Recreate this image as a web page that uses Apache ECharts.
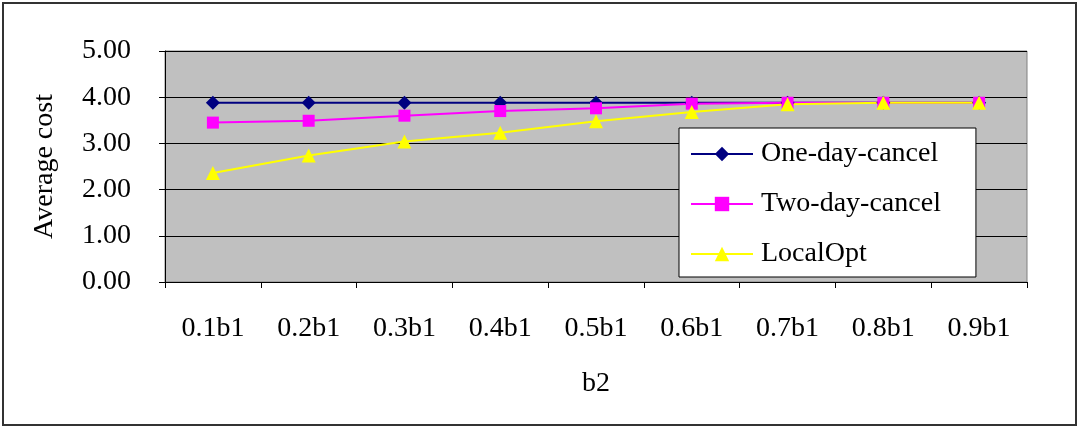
<!DOCTYPE html>
<html>
<head>
<meta charset="utf-8">
<script src="https://cdn.jsdelivr.net/npm/echarts@6/dist/echarts.min.js"></script>
<style>
  html, body { margin: 0; padding: 0; background: #fff; }
  #chart { width: 1081px; height: 429px; }
</style>
</head>
<body>
<div id="chart"></div>
<script>
// values
const categories = ['0.1b1', '0.2b1', '0.3b1', '0.4b1', '0.5b1', '0.6b1', '0.7b1', '0.8b1', '0.9b1'];
const oneDayCancel = [3.88, 3.88, 3.88, 3.88, 3.88, 3.88, 3.88, 3.88, 3.88];
const twoDayCancel = [3.45, 3.49, 3.60, 3.70, 3.76, 3.86, 3.88, 3.88, 3.88];
const localOpt = [2.36, 2.74, 3.04, 3.23, 3.48, 3.68, 3.85, 3.88, 3.88];

const serif = "'Liberation Serif', 'DejaVu Serif', serif";
const fontSize = 28;

const lineSeries = (name, data, color, symbol, size) => ({
  name,
  type: 'line',
  data,
  symbol,
  symbolSize: size,
  lineStyle: { color, width: 2 },
  itemStyle: { color },
  animation: false,
});

const chart = echarts.init(document.getElementById('chart'), null, { renderer: 'canvas' });

chart.setOption({
  backgroundColor: '#fff',
  animation: false,
  graphic: [{
    type: 'rect',
    shape: { x: 3, y: 3, width: 1073, height: 422 },
    style: { fill: 'none', stroke: '#333', lineWidth: 2 },
    z: 100,
  }],
  grid: {
    left: 165,
    right: 54,
    top: 51,
    bottom: 147,
    show: true,
    backgroundColor: '#C0C0C0',
    borderColor: '#808080',
    borderWidth: 1,
  },
  legend: {
    orient: 'vertical',
    left: 679,
    top: 128,
    padding: [12, 35, 9, 11],
    itemWidth: 62,
    itemHeight: 18,
    itemGap: 22,
    backgroundColor: '#fff',
    borderColor: '#000',
    borderWidth: 1,
    textStyle: { fontFamily: serif, fontSize: fontSize, color: '#000', padding: [0, 0, 0, 3] },
    data: ['One-day-cancel', 'Two-day-cancel', 'LocalOpt'],
  },
  xAxis: {
    type: 'category',
    data: categories,
    boundaryGap: true,
    name: 'b2',
    nameLocation: 'middle',
    nameGap: 88,
    nameTextStyle: { fontFamily: serif, fontSize: fontSize, color: '#000' },
    axisLine: { lineStyle: { color: '#000', width: 1 } },
    axisTick: { show: true, length: 6, lineStyle: { color: '#000' } },
    axisLabel: { fontFamily: serif, fontSize: fontSize, color: '#000', margin: 33 },
  },
  yAxis: {
    type: 'value',
    min: 0,
    max: 5,
    interval: 1,
    name: 'Average cost',
    nameLocation: 'middle',
    nameGap: 106,
    nameTextStyle: { fontFamily: serif, fontSize: fontSize, color: '#000' },
    axisLine: { show: true, lineStyle: { color: '#000', width: 1 } },
    axisTick: { show: true, length: 6, lineStyle: { color: '#000' } },
    axisLabel: {
      fontFamily: serif,
      fontSize: fontSize,
      color: '#000',
      margin: 34,
      formatter: v => v.toFixed(2),
    },
    splitLine: { show: true, lineStyle: { color: '#000', width: 1 } },
  },
  series: [
    lineSeries('One-day-cancel', oneDayCancel, '#000080', 'diamond', 14),
    lineSeries('Two-day-cancel', twoDayCancel, '#FF00FF', 'rect', 12),
    lineSeries('LocalOpt', localOpt, '#FFFF00', 'triangle', 14),
  ],
});
</script>
</body>
</html>
